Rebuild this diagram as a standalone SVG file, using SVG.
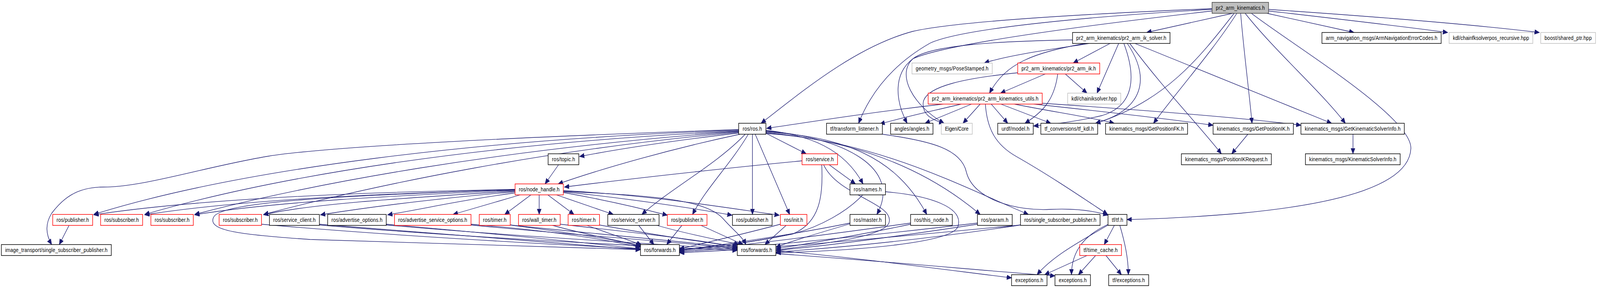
<svg xmlns="http://www.w3.org/2000/svg" width="4636" height="736" viewBox="0 0 4636 736">
<style>
.n rect{fill:#fff;stroke:#000;stroke-width:1.4;vector-effect:non-scaling-stroke}
.n.r rect{stroke:#ff0000}
.n.g rect{stroke:#bfbfbf}
.n.top rect{fill:#bfbfbf;stroke:#404040}
.n text{font-family:"Liberation Sans",Arial,sans-serif;font-size:14px;fill:#000;text-anchor:middle}
#edges path{fill:none;stroke:#191970;stroke-width:1.3;vector-effect:non-scaling-stroke;marker-end:url(#a)}
</style>
<defs>
<marker id="a" markerWidth="15" markerHeight="13" refX="14" refY="6" orient="auto" markerUnits="userSpaceOnUse"><path d="M0,0 L14,6 L0,12 z" fill="#191970" stroke="#191970" stroke-width="1"/></marker>
</defs>
<rect width="4636" height="736" fill="#fff"/>
<g id="diagram" transform="scale(0.882 1)">
<g id="edges">
<path d="M3518,22 C3300,30 2800,50 2650,80 C2480,120 2320,240 2209,315"/>
<path d="M3518,24 C3200,40 2800,70 2700,110 C2600,160 2530,230 2492,315"/>
<path d="M3518,28 C3200,60 2750,110 2650,150 C2590,190 2600,260 2633,315"/>
<path d="M3578,34 L3328,83"/>
<path d="M3582,34 C3480,150 3380,260 3180,315"/>
<path d="M3590,34 C3520,130 3420,230 3348,315"/>
<path d="M3601,34 C3610,130 3625,230 3634,315"/>
<path d="M3614,34 C3700,130 3830,230 3905,315"/>
<path d="M3632,34 C3760,120 4100,300 4095,380 C4090,470 3900,520 3600,545 C3450,556 3350,560 3271,561"/>
<path d="M3677,34 L3930,83"/>
<path d="M3682,28 C3850,45 4050,65 4202,83"/>
<path d="M3682,24 C3950,40 4250,60 4468,83"/>
<path d="M3162,111 C3060,125 2930,140 2857,161"/>
<path d="M3150,111 C3000,135 2920,160 2872,238"/>
<path d="M3113,102 C2900,105 2700,115 2650,150 C2600,190 2650,270 2740,315"/>
<path d="M3222,111 L3115,161"/>
<path d="M3247,111 L3184,238"/>
<path d="M3262,111 C3300,200 3290,270 3200,295 C3120,312 3050,318 3000,322"/>
<path d="M3272,111 C3340,200 3320,280 3180,315"/>
<path d="M3279,111 C3380,230 3480,320 3545,393"/>
<path d="M3294,111 L3865,315"/>
<path d="M2954,186 C2800,200 2690,220 2680,260 C2675,290 2700,305 2740,315"/>
<path d="M3034,189 L2904,238"/>
<path d="M3070,189 C3060,260 3020,290 2975,315"/>
<path d="M3092,189 L3155,238"/>
<path d="M2738,266 C2500,290 2350,312 2225,328"/>
<path d="M2790,266 C2700,285 2620,300 2554,317"/>
<path d="M2820,266 L2685,315"/>
<path d="M2845,266 L2795,315"/>
<path d="M2860,266 C2865,330 2890,370 2950,400 C3050,450 3150,510 3215,548"/>
<path d="M2877,266 L2925,315"/>
<path d="M2905,266 L3050,315"/>
<path d="M2944,266 C3050,285 3170,300 3234,315"/>
<path d="M3001,266 C3200,285 3400,305 3521,320"/>
<path d="M3010,263 C3300,280 3600,300 3776,320"/>
<path d="M3622,343 L3575,393"/>
<path d="M3927,343 L3927,393"/>
<path d="M2144,331 C1500,350 950,375 780,399 C600,425 420,478 300,478 C220,478 180,510 150,545 C125,580 140,610 150,625"/>
<path d="M2144,333 C1400,355 700,430 272,548"/>
<path d="M2144,335 C1400,365 800,450 420,548"/>
<path d="M2144,336 C1450,380 900,470 565,548"/>
<path d="M2144,338 C1600,380 1100,470 765,548"/>
<path d="M2144,340 C1950,360 1800,380 1682,400"/>
<path d="M2148,343 C1950,380 1750,430 1620,470"/>
<path d="M2163,343 C2080,420 1950,480 1863,548"/>
<path d="M2172,343 C2120,420 2050,480 2010,548"/>
<path d="M2184,343 L2184,548"/>
<path d="M2192,343 L2292,548"/>
<path d="M2222,340 L2340,393"/>
<path d="M2223,333 C2350,345 2450,380 2505,470"/>
<path d="M2223,335 C2450,350 2620,430 2545,548"/>
<path d="M2223,337 C2450,350 2600,400 2690,548"/>
<path d="M2223,339 C2500,360 2700,440 2845,548"/>
<path d="M2223,341 C2550,360 2800,480 2985,548"/>
<path d="M2561,343 C2700,360 2790,380 2805,440 C2825,510 2950,540 3050,535 C3130,532 3180,540 3216,550"/>
<path d="M1495,484 C1100,490 600,505 272,549"/>
<path d="M1495,485 C1100,495 700,510 420,549"/>
<path d="M1495,486 C1150,500 800,515 565,549"/>
<path d="M1495,488 C1200,505 900,520 765,549"/>
<path d="M1495,490 C1300,505 1100,525 930,549"/>
<path d="M1495,493 C1350,510 1250,530 1125,549"/>
<path d="M1510,498 L1315,548"/>
<path d="M1541,498 L1465,548"/>
<path d="M1565,498 L1565,548"/>
<path d="M1590,498 L1666,548"/>
<path d="M1615,498 L1780,548"/>
<path d="M1635,492 C1750,510 1850,530 1937,550"/>
<path d="M1635,490 C1800,505 2000,530 2125,550"/>
<path d="M1635,487 C1900,500 2100,530 2262,550"/>
<path d="M1635,489 C1900,500 2050,510 2100,560 C2130,590 2155,605 2165,625"/>
<path d="M1495,484 C1000,500 640,515 620,555 C600,590 700,600 900,612 C1300,625 1600,633 1859,638"/>
<path d="M759,573 C1100,600 1500,620 1859,636"/>
<path d="M927,573 C1300,600 1650,625 1859,638"/>
<path d="M927,575 C1400,610 1900,630 2140,640"/>
<path d="M1121,573 C1400,595 1700,620 1859,636"/>
<path d="M1121,575 C1500,605 1950,625 2140,638"/>
<path d="M1367,573 C1600,590 1750,610 1859,632"/>
<path d="M1367,575 C1650,600 2000,620 2140,636"/>
<path d="M1481,575 C1650,595 1780,610 1859,630"/>
<path d="M1481,575 C1750,600 2000,618 2140,634"/>
<path d="M1600,575 C1700,600 1800,615 1859,628"/>
<path d="M1626,573 C1850,595 2050,615 2140,632"/>
<path d="M1700,575 C1780,600 1830,615 1862,626"/>
<path d="M1740,575 C1900,600 2050,620 2140,630"/>
<path d="M1853,575 L1898,625"/>
<path d="M1903,575 C2000,600 2100,615 2145,625"/>
<path d="M1980,575 L1935,625"/>
<path d="M2032,575 L2157,625"/>
<path d="M2265,573 C2150,600 2050,620 1972,636"/>
<path d="M2283,575 L2220,625"/>
<path d="M2467,570 C2300,600 2100,625 1972,640"/>
<path d="M2467,572 C2380,595 2300,615 2252,632"/>
<path d="M2643,570 C2400,600 2150,628 1972,642"/>
<path d="M2643,573 C2500,600 2350,622 2252,636"/>
<path d="M2837,570 C2500,605 2200,630 1972,644"/>
<path d="M2837,573 C2600,605 2400,628 2252,640"/>
<path d="M2962,575 C2600,605 2250,635 1972,646"/>
<path d="M2962,575 C2700,610 2450,632 2252,644"/>
<path d="M2504,498 C2460,540 2380,580 2300,598 C2150,625 2050,632 1972,638"/>
<path d="M2570,490 C2700,500 2800,530 2780,580 C2760,620 2500,640 2252,646"/>
<path d="M2328,411 C2100,430 1800,460 1638,478"/>
<path d="M2405,420 L2483,470"/>
<path d="M2385,420 C2390,500 2380,570 2300,598 C2150,625 2050,632 1972,640"/>
<path d="M2390,420 C2430,500 2600,520 2580,570 C2560,610 2350,625 2252,640"/>
<path d="M1622,420 L1582,470"/>
<path d="M3235,575 L3205,625"/>
<path d="M3250,575 C3265,620 3275,660 3275,702"/>
<path d="M3217,573 C3150,600 3110,640 3110,702"/>
<path d="M3216,575 C3150,610 3060,650 3010,702"/>
<path d="M3155,653 L3032,702"/>
<path d="M3180,653 L3130,702"/>
<path d="M3210,653 L3255,702"/>
<path d="M2252,640 C2500,660 2750,690 2936,710"/>
<path d="M2252,648 C2600,670 2900,695 3062,705"/>
<path d="M201,575 L172,625"/>
</g>
<g id="n_top" class="n top"><rect x="3518" y="6" width="164" height="28"/><text x="3600" y="25" textLength="142">pr2_arm_kinematics.h</text></g>
<g id="n_iksolver" class="n"><rect x="3113" y="83" width="283" height="28"/><text x="3254.5" y="102" textLength="261">pr2_arm_kinematics/pr2_arm_ik_solver.h</text></g>
<g id="n_armnav" class="n"><rect x="3837" y="83" width="346" height="28"/><text x="4010" y="102" textLength="324">arm_navigation_msgs/ArmNavigationErrorCodes.h</text></g>
<g id="n_chainfk" class="n g"><rect x="4206" y="83" width="243" height="28"/><text x="4327.5" y="102" textLength="221">kdl/chainfksolverpos_recursive.hpp</text></g>
<g id="n_boost" class="n g"><rect x="4472" y="83" width="159" height="28"/><text x="4551.5" y="102" textLength="137">boost/shared_ptr.hpp</text></g>
<g id="n_pose" class="n g"><rect x="2647" y="161" width="233" height="28"/><text x="2763.5" y="180" textLength="211">geometry_msgs/PoseStamped.h</text></g>
<g id="n_ik" class="n r"><rect x="2954" y="161" width="238" height="28"/><text x="3073" y="180" textLength="216">pr2_arm_kinematics/pr2_arm_ik.h</text></g>
<g id="n_utils" class="n r"><rect x="2694" y="238" width="331" height="28"/><text x="2859.5" y="257" textLength="309">pr2_arm_kinematics/pr2_arm_kinematics_utils.h</text></g>
<g id="n_chainik" class="n g"><rect x="3099" y="238" width="154" height="28"/><text x="3176" y="257" textLength="132">kdl/chainiksolver.hpp</text></g>
<g id="n_ros" class="n"><rect x="2144" y="315" width="79" height="28"/><text x="2183.5" y="334" textLength="56">ros/ros.h</text></g>
<g id="n_tl" class="n"><rect x="2399" y="315" width="162" height="28"/><text x="2480" y="334" textLength="140">tf/transform_listener.h</text></g>
<g id="n_angles" class="n"><rect x="2585" y="315" width="123" height="28"/><text x="2646.5" y="334" textLength="101">angles/angles.h</text></g>
<g id="n_eigen" class="n g"><rect x="2732" y="315" width="90" height="28"/><text x="2777" y="334" textLength="68">Eigen/Core</text></g>
<g id="n_urdf" class="n"><rect x="2896" y="315" width="103" height="28"/><text x="2947.5" y="334" textLength="81">urdf/model.h</text></g>
<g id="n_tfkdl" class="n"><rect x="3021" y="315" width="165" height="28"/><text x="3103.5" y="334" textLength="143">tf_conversions/tf_kdl.h</text></g>
<g id="n_getfk" class="n"><rect x="3209" y="315" width="238" height="28"/><text x="3328" y="334" textLength="216">kinematics_msgs/GetPositionFK.h</text></g>
<g id="n_getik" class="n"><rect x="3521" y="315" width="233" height="28"/><text x="3637.5" y="334" textLength="211">kinematics_msgs/GetPositionIK.h</text></g>
<g id="n_getksi" class="n"><rect x="3776" y="315" width="300" height="28"/><text x="3926" y="334" textLength="278">kinematics_msgs/GetKinematicSolverInfo.h</text></g>
<g id="n_topic" class="n"><rect x="1591" y="393" width="89" height="28"/><text x="1635.5" y="412" textLength="67">ros/topic.h</text></g>
<g id="n_service" class="n r"><rect x="2328" y="393" width="103" height="28"/><text x="2379.5" y="412" textLength="81">ros/service.h</text></g>
<g id="n_posikreq" class="n"><rect x="3429" y="393" width="261" height="28"/><text x="3559.5" y="412" textLength="239">kinematics_msgs/PositionIKRequest.h</text></g>
<g id="n_ksi" class="n"><rect x="3789" y="393" width="275" height="28"/><text x="3926.5" y="412" textLength="253">kinematics_msgs/KinematicSolverInfo.h</text></g>
<g id="n_nh" class="n r"><rect x="1495" y="470" width="140" height="28"/><text x="1565" y="489" textLength="118">ros/node_handle.h</text></g>
<g id="n_names" class="n"><rect x="2467" y="470" width="103" height="28"/><text x="2518.5" y="489" textLength="81">ros/names.h</text></g>
<g id="n_pub1" class="n r"><rect x="153" y="548" width="116" height="28"/><text x="211" y="567" textLength="94">ros/publisher.h</text></g>
<g id="n_sub1" class="n r"><rect x="292" y="548" width="122" height="28"/><text x="353" y="567" textLength="100">ros/subscriber.h</text></g>
<g id="n_sub2" class="n r"><rect x="438" y="548" width="123" height="28"/><text x="499.5" y="567" textLength="101">ros/subscriber.h</text></g>
<g id="n_sub3" class="n r"><rect x="636" y="548" width="123" height="28"/><text x="697.5" y="567" textLength="101">ros/subscriber.h</text></g>
<g id="n_sc" class="n"><rect x="782" y="548" width="145" height="28"/><text x="854.5" y="567" textLength="123">ros/service_client.h</text></g>
<g id="n_ao" class="n"><rect x="951" y="548" width="170" height="28"/><text x="1036" y="567" textLength="148">ros/advertise_options.h</text></g>
<g id="n_aso" class="n r"><rect x="1145" y="548" width="222" height="28"/><text x="1256" y="567" textLength="200">ros/advertise_service_options.h</text></g>
<g id="n_timer1" class="n r"><rect x="1391" y="548" width="90" height="28"/><text x="1436" y="567" textLength="68">ros/timer.h</text></g>
<g id="n_wt" class="n r"><rect x="1505" y="548" width="121" height="28"/><text x="1565.5" y="567" textLength="99">ros/wall_timer.h</text></g>
<g id="n_timer2" class="n r"><rect x="1649" y="548" width="91" height="28"/><text x="1694.5" y="567" textLength="69">ros/timer.h</text></g>
<g id="n_ss" class="n"><rect x="1764" y="548" width="149" height="28"/><text x="1838.5" y="567" textLength="127">ros/service_server.h</text></g>
<g id="n_pub2" class="n r"><rect x="1937" y="548" width="115" height="28"/><text x="1994.5" y="567" textLength="93">ros/publisher.h</text></g>
<g id="n_pub3" class="n"><rect x="2126" y="548" width="115" height="28"/><text x="2183.5" y="567" textLength="93">ros/publisher.h</text></g>
<g id="n_init" class="n r"><rect x="2265" y="548" width="77" height="28"/><text x="2303.5" y="567" textLength="55">ros/init.h</text></g>
<g id="n_master" class="n"><rect x="2467" y="548" width="103" height="28"/><text x="2518.5" y="567" textLength="81">ros/master.h</text></g>
<g id="n_thisnode" class="n"><rect x="2643" y="548" width="121" height="28"/><text x="2703.5" y="567" textLength="99">ros/this_node.h</text></g>
<g id="n_param" class="n"><rect x="2837" y="548" width="101" height="28"/><text x="2887.5" y="567" textLength="79">ros/param.h</text></g>
<g id="n_ssp" class="n"><rect x="2962" y="548" width="231" height="28"/><text x="3077.5" y="567" textLength="209">ros/single_subscriber_publisher.h</text></g>
<g id="n_tf" class="n"><rect x="3216" y="548" width="55" height="28"/><text x="3243.5" y="567" textLength="33">tf/tf.h</text></g>
<g id="n_it" class="n"><rect x="4" y="625" width="319" height="28"/><text x="163.5" y="644" textLength="297">image_transport/single_subscriber_publisher.h</text></g>
<g id="n_fwd1" class="n"><rect x="1859" y="625" width="113" height="28"/><text x="1915.5" y="644" textLength="91">ros/forwards.h</text></g>
<g id="n_fwd2" class="n"><rect x="2140" y="625" width="112" height="28"/><text x="2196" y="644" textLength="90">ros/forwards.h</text></g>
<g id="n_tc" class="n r"><rect x="3134" y="625" width="121" height="28"/><text x="3194.5" y="644" textLength="99">tf/time_cache.h</text></g>
<g id="n_exc1" class="n"><rect x="2936" y="702" width="103" height="28"/><text x="2987.5" y="721" textLength="81">exceptions.h</text></g>
<g id="n_exc2" class="n"><rect x="3062" y="702" width="103" height="28"/><text x="3113.5" y="721" textLength="81">exceptions.h</text></g>
<g id="n_tfexc" class="n"><rect x="3218" y="702" width="116" height="28"/><text x="3276" y="721" textLength="94">tf/exceptions.h</text></g>
</g>
</svg>
